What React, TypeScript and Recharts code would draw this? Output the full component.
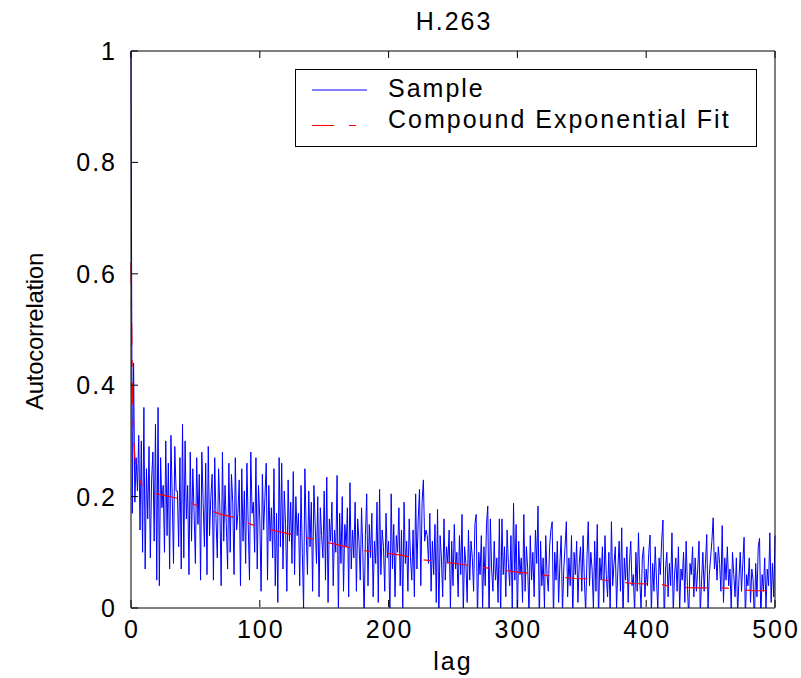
import { LineChart, Line, XAxis, YAxis, Legend } from 'recharts';

// sample autocorrelation, lags 0..500 (50 lags per row block)
const acf000 = [
  1.0, 0.17, 0.44, 0.19, 0.27, 0.21, 0.31, 0.14, 0.3, 0.1,
  0.36, 0.07, 0.25, 0.16, 0.29, 0.09, 0.23, 0.28, 0.12, 0.33,
  0.05, 0.36, 0.04, 0.27, 0.18, 0.22, 0.1, 0.3, 0.13, 0.26,
  0.07, 0.31, 0.2, 0.08, 0.29, 0.21, 0.21, 0.11, 0.27, 0.07,
  0.33, 0.09, 0.3, 0.16, 0.22, 0.06, 0.28, 0.12, 0.25, 0.17,
];
const acf050 = [
  0.08, 0.27, 0.15, 0.24, 0.05, 0.28, 0.19, 0.11, 0.26, 0.06,
  0.29, 0.13, 0.2, 0.24, 0.05, 0.27, 0.16, 0.09, 0.25, 0.18,
  0.04, 0.28, 0.12, 0.22, 0.15, 0.07, 0.26, 0.1, 0.24, 0.19,
  0.06, 0.27, 0.14, 0.17, 0.23, 0.04, 0.25, 0.12, 0.21, 0.08,
  0.26, 0.15, 0.05, 0.28, 0.17, 0.19, 0.1, 0.27, 0.07, 0.22,
];
const acf100 = [
  0.16, 0.03, 0.24, 0.14, 0.2, 0.26, 0.05, 0.22, 0.12, 0.18,
  0.09, 0.25, 0.04, 0.17, 0.01, 0.27, 0.11, 0.26, 0.07, 0.21,
  0.15, 0.03, 0.23, 0.12, 0.19, 0.08, 0.245, 0.06, 0.2, 0.13,
  0.17, 0.04, 0.22, 0.1, 0.0, 0.25, 0.14, 0.06, 0.21, 0.11,
  0.19, 0.03, 0.22, 0.15, 0.08, 0.2, 0.02, 0.18, 0.13, 0.09,
];
const acf150 = [
  0.21, 0.05, 0.235, 0.01, 0.16, 0.12, 0.19, 0.04, 0.14, 0.1,
  0.238, -0.01, 0.17, 0.08, 0.2, 0.03, 0.15, 0.11, 0.18, 0.02,
  0.225, 0.07, 0.14, 0.09, 0.19, 0.03, 0.16, 0.12, 0.05, 0.18,
  0.1, -0.02, 0.13, 0.205, 0.04, 0.15, 0.09, 0.17, 0.02, 0.12,
  0.08, 0.19, 0.01, 0.213, 0.06, 0.14, 0.11, 0.03, 0.17, 0.09,
];
const acf200 = [
  0.12, -0.02, 0.205, 0.07, 0.15, 0.02, 0.13, 0.1, 0.18, 0.04,
  0.14, 0.0, 0.19, 0.08, 0.12, 0.03, 0.16, 0.09, 0.05, 0.14,
  0.02, 0.205, 0.07, 0.16, 0.213, 0.04, 0.19, 0.23, 0.12, 0.14,
  0.13, 0.08, 0.17, 0.03, 0.12, 0.06, 0.15, 0.01, 0.177, -0.02,
  0.13, 0.09, 0.02, 0.16, 0.05, 0.11, 0.08, 0.14, 0.0, 0.12,
];
const acf250 = [
  0.04, 0.15, 0.07, 0.1, 0.02, 0.13, 0.06, 0.168, -0.01, 0.11,
  0.08, 0.01, 0.14, 0.05, 0.12, 0.09, 0.03, 0.15, 0.168, -0.02,
  0.1, 0.06, 0.13, 0.0, 0.11, 0.04, 0.15, 0.183, -0.03, 0.16,
  0.07, 0.03, 0.12, 0.05, 0.09, 0.01, 0.16, -0.02, 0.16, 0.06,
  0.11, 0.02, 0.14, 0.08, 0.04, 0.13, 0.0, 0.188, 0.05, 0.15,
];
const acf300 = [
  -0.02, 0.12, 0.06, 0.09, 0.01, 0.168, 0.03, 0.11, 0.07, -0.01,
  0.13, 0.05, 0.1, 0.02, 0.14, 0.08, 0.183, -0.03, 0.12, 0.04,
  0.09, 0.0, 0.13, 0.06, 0.03, 0.11, 0.14, 0.155, -0.02, 0.1,
  0.05, 0.12, 0.01, 0.08, 0.13, -0.01, 0.07, 0.11, 0.155, 0.02,
  0.09, 0.04, 0.13, -0.02, 0.1, 0.06, 0.12, 0.01, 0.08, 0.11,
];
const acf350 = [
  0.03, 0.13, 0.05, -0.01, 0.09, 0.155, 0.04, 0.1, 0.07, 0.0,
  0.12, 0.03, 0.15, -0.02, 0.09, 0.05, 0.11, 0.01, 0.13, 0.06,
  0.02, 0.1, -0.01, 0.155, 0.04, 0.08, 0.11, 0.0, 0.07, 0.12,
  0.03, 0.144, -0.02, 0.09, 0.05, 0.11, 0.01, 0.08, 0.12, 0.04,
  0.06, -0.01, 0.1, 0.03, 0.135, 0.05, 0.0, 0.09, 0.11, 0.02,
];
const acf400 = [
  0.07, 0.04, 0.1, 0.131, -0.01, 0.08, 0.03, 0.11, 0.05, 0.0,
  0.09, 0.06, 0.12, 0.158, -0.03, 0.07, 0.1, 0.02, 0.08, 0.04,
  0.135, -0.01, 0.06, 0.09, 0.03, 0.11, 0.0, 0.07, 0.05, 0.1,
  0.01, 0.12, 0.04, -0.02, 0.08, 0.06, 0.11, 0.02, 0.09, 0.03,
  0.07, 0.12, -0.01, 0.05, 0.1, 0.03, 0.08, 0.132, 0.0, 0.06,
];
const acf450 = [
  0.09, 0.12, 0.162, 0.07, 0.1, 0.05, 0.11, 0.08, 0.03, 0.148,
  0.01, 0.09, 0.05, 0.11, 0.04, 0.07, 0.0, 0.1, 0.06, 0.02,
  0.09, -0.01, 0.05, 0.1, 0.03, 0.08, 0.127, -0.02, 0.06, 0.04,
  0.09, 0.01, 0.07, 0.05, -0.03, 0.08, 0.02, 0.11, 0.125, -0.02,
  0.06, 0.03, 0.09, 0.0, 0.07, 0.04, 0.135, 0.01, 0.08, 0.02, 0.13,
];

// compound exponential fit, read at a set of lags
const fitLags = [
  0, 1, 2, 3, 4, 5, 7, 10, 15, 20, 30, 40, 55, 70, 85, 92, 105, 115, 135, 150,
  165, 178, 195, 210, 225, 240, 255, 270, 283, 298, 315, 330, 345, 360, 375,
  390, 410, 420, 437, 460, 483, 500,
];
const fitValues = [
  0.62, 0.4, 0.31, 0.27, 0.255, 0.245, 0.228, 0.216, 0.21, 0.205, 0.2, 0.195,
  0.18, 0.168, 0.16, 0.151, 0.142, 0.137, 0.127, 0.119, 0.111, 0.104, 0.099,
  0.095, 0.087, 0.083, 0.079, 0.074, 0.07, 0.065, 0.061, 0.056, 0.053, 0.052,
  0.048, 0.044, 0.043, 0.038, 0.036, 0.036, 0.031, 0.031,
];

const xTicks = [0, 100, 200, 300, 400, 500];
const yTicks = [0, 0.2, 0.4, 0.6, 0.8, 1];

const sampleData = [
  ...acf000, ...acf050, ...acf100, ...acf150, ...acf200,
  ...acf250, ...acf300, ...acf350, ...acf400, ...acf450,
].map((v, i) => ({ lag: i, acf: v }));
const fitData = fitLags.map((lag, i) => ({ lag, fit: fitValues[i] }));

const FONT = '"Liberation Sans", Arial, Helvetica, sans-serif';
const TICK_LEN = 7;
const FIT_DASH = '22 15 7 16';

// axes are 1px thick (recharts skips 0-sized axes); tick x/y land on the plot edge
const BottomTick = ({ x, y, payload }: any) => (
  <g>
    <line x1={x} y1={y - 1} x2={x} y2={y - 1 - TICK_LEN} stroke="#000" />
    <text x={x + 1} y={y + 30} textAnchor="middle" fontSize={25} letterSpacing={2} fill="#000" fontFamily={FONT}>
      {payload.value}
    </text>
  </g>
);

const TopTick = ({ x, y }: any) => (
  <line x1={x} y1={y} x2={x} y2={y + TICK_LEN} stroke="#000" />
);

const LeftTick = ({ x, y, payload }: any) => (
  <g>
    <line x1={x} y1={y} x2={x + TICK_LEN} y2={y} stroke="#000" />
    <text x={x - 14} y={y} dy="0.36em" textAnchor="end" fontSize={25} letterSpacing={2} fill="#000" fontFamily={FONT}>
      {String(payload.value)}
    </text>
  </g>
);

const RightTick = ({ x, y }: any) => (
  <line x1={x} y1={y} x2={x - TICK_LEN} y2={y} stroke="#000" />
);

const LegendBox = () => (
  <svg width={463} height={79} style={{ display: 'block' }}>
    <rect x={0.5} y={0.5} width={461} height={77} fill="#fff" stroke="#000" />
    <line x1={17} y1={21} x2={72} y2={21} stroke="#0000ff" />
    <text x={93} y={28} fontSize={25} letterSpacing={2} fill="#000" fontFamily={FONT}>Sample</text>
    <line x1={17} y1={56.5} x2={75} y2={56.5} stroke="#ff0000" strokeDasharray={FIT_DASH} />
    <text x={93} y={59} fontSize={25} letterSpacing={2} fill="#000" fontFamily={FONT}>Compound Exponential Fit</text>
  </svg>
);

export default function App() {
  return (
    <div style={{ position: 'absolute', left: 0, top: 0, background: '#fff' }}>
      <LineChart
        width={801}
        height={678}
        data={sampleData}
        margin={{ top: 50, right: 25, bottom: 69, left: 130 }}
      >
        <XAxis
          dataKey="lag"
          type="number"
          domain={[0, 500]}
          ticks={xTicks}
          height={1}
          tickSize={0}
          tickMargin={0}
          tick={BottomTick}
          axisLine={{ stroke: '#000' }}
          interval={0}
          label={(p: any) => (
            <text
              x={p.viewBox.x + p.viewBox.width / 2}
              y={p.viewBox.y + 62}
              textAnchor="middle"
              fontSize={25}
              letterSpacing={2}
              fontFamily={FONT}
              fill="#000"
            >
              lag
            </text>
          )}
        />
        <XAxis
          xAxisId="top"
          orientation="top"
          type="number"
          domain={[0, 500]}
          ticks={xTicks}
          height={1}
          tickSize={0}
          tickMargin={0}
          tick={TopTick}
          axisLine={{ stroke: '#000' }}
          interval={0}
          label={(p: any) => (
            <text
              x={p.viewBox.x + p.viewBox.width / 2 + 1}
              y={p.viewBox.y - 20}
              textAnchor="middle"
              fontSize={25}
              letterSpacing={2}
              fontFamily={FONT}
              fill="#000"
            >
              H.263
            </text>
          )}
        />
        <YAxis
          type="number"
          domain={[0, 1]}
          ticks={yTicks}
          allowDataOverflow
          width={1}
          tickSize={0}
          tickMargin={0}
          tick={LeftTick}
          axisLine={{ stroke: '#000' }}
          interval={0}
          label={(p: any) => {
            const cx = p.viewBox.x - 87;
            const cy = p.viewBox.y + p.viewBox.height / 2 + 2;
            return (
              <text
                x={cx}
                y={cy}
                transform={`rotate(-90 ${cx} ${cy})`}
                textAnchor="middle"
                fontSize={24}
                letterSpacing={-0.3}
                fontFamily={FONT}
                fill="#000"
              >
                Autocorrelation
              </text>
            );
          }}
        />
        <YAxis
          yAxisId="right"
          orientation="right"
          type="number"
          domain={[0, 1]}
          ticks={yTicks}
          width={1}
          tickSize={0}
          tickMargin={0}
          tick={RightTick}
          axisLine={{ stroke: '#000' }}
          interval={0}
        />
        <Legend
          layout="vertical"
          align="center"
          verticalAlign="middle"
          wrapperStyle={{ left: 295, top: 69, width: 463, height: 79 }}
          content={() => <LegendBox />}
        />
        <Line
          type="linear"
          dataKey="acf"
          name="Sample"
          stroke="#0000ff"
          strokeWidth={1}
          dot={false}
          isAnimationActive={false}
        />
        <Line
          type="linear"
          data={fitData}
          dataKey="fit"
          name="Compound Exponential Fit"
          stroke="#ff0000"
          strokeWidth={1.2}
          strokeDasharray={FIT_DASH}
          dot={false}
          isAnimationActive={false}
        />
      </LineChart>
    </div>
  );
}
